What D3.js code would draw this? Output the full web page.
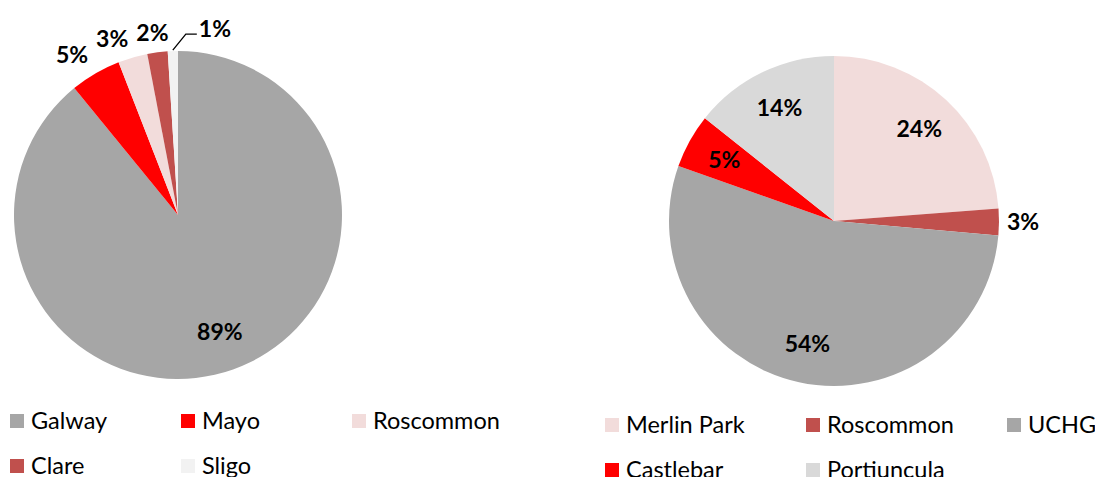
<!DOCTYPE html>
<html>
<head>
<meta charset="utf-8">
<script src="https://cdn.jsdelivr.net/npm/d3@7"></script>
<style>
  body { margin: 0; background: #fff; }
  text { font-family: Lato, "Open Sans", sans-serif; }
  .lbl { font-weight: bold; font-size: 23px; fill: #000; }
  .leg { font-size: 23.5px; fill: #000; }
</style>
</head>
<body>
<div id="vis"></div>
<script>
// left pie: counties
var leftNames = ['Galway', 'Mayo', 'Roscommon', 'Clare', 'Sligo'];
var leftValues = [89.1, 5.0, 2.9, 2.0, 1.0];
var leftColors = ['#a6a6a6', '#ff0000', '#f2dcdb', '#c0504d', '#f2f2f2'];

// right pie: hospitals
var rightNames = ['Merlin Park', 'Roscommon', 'UCHG', 'Castlebar', 'Portiuncula'];
var rightValues = [23.8, 2.6, 54.0, 5.3, 14.3];
var rightColors = ['#f2dcdb', '#c0504d', '#a6a6a6', '#ff0000', '#d9d9d9'];

var width = 1095, height = 477;

var svg = d3.select('#vis').append('svg')
    .attr('width', width)
    .attr('height', height);

var fmt = function(v) { return Math.round(v) + '%'; };
var clamp = function(v) { return Math.max(-1, Math.min(1, v)); };

function drawPie(opts) {
    var data = opts.names.map(function(n, i) {
        return {name: n, value: opts.values[i], color: opts.colors[i]};
    });
    var pie = d3.pie().sort(null).value(function(d) { return d.value; });
    var arcs = pie(data);
    var r = opts.radius;

    var g = svg.append('g')
        .attr('transform', 'translate(' + opts.cx + ',' + opts.cy + ')');

    var arc = d3.arc().innerRadius(0).outerRadius(r);
    g.selectAll('path.slice')
        .data(arcs)
        .enter().append('path')
        .attr('class', 'slice')
        .attr('d', arc)
        .attr('fill', function(d) { return d.data.color; });

    var inArc = d3.arc().innerRadius(r * 0.76).outerRadius(r * 0.76);
    var outside = [];

    arcs.forEach(function(d, i) {
        var mid = (d.startAngle + d.endAngle) / 2;
        if (opts.leader === i) {
            // tiny slice gets a leader line out to the right
            var x0 = Math.sin(mid) * (r + 1), y0 = -Math.cos(mid) * (r + 1);
            var x1 = x0 + 13, y1 = y0 - 16;
            g.append('polyline')
                .attr('points', [[x0, y0], [x1, y1], [x1 + 11, y1]].join(' '))
                .attr('fill', 'none')
                .attr('stroke', '#000')
                .attr('stroke-width', 1.3);
            g.append('text')
                .attr('class', 'lbl')
                .attr('x', x1 + 13)
                .attr('y', y1 - 5)
                .attr('dy', '0.35em')
                .text(fmt(d.data.value));
            return;
        }
        var t = g.append('text')
            .attr('class', 'lbl')
            .attr('dy', '0.35em')
            .attr('text-anchor', 'middle')
            .text(fmt(d.data.value));
        if (d.data.value >= opts.insideMin) {
            var p = inArc.centroid(d);
            t.attr('x', p[0]).attr('y', p[1]);
        } else {
            // outside end: box corner sits just past the rim
            var w = t.node().getComputedTextLength(), h = 22;
            var px = Math.sin(mid) * (r + 8), py = -Math.cos(mid) * (r + 8);
            outside.push({t: t, w: w, x: px + w / 2 * clamp(Math.sin(mid) * 2),
                y: py - h / 2 * clamp(Math.cos(mid) * 2), left: Math.sin(mid) < 0});
        }
    });

    // push left-side labels apart, working back from the top
    var lefts = outside.filter(function(o) { return o.left; });
    for (var k = lefts.length - 2; k >= 0; k--) {
        var nxt = lefts[k + 1], cur = lefts[k];
        var maxX = nxt.x - nxt.w / 2 - 8 - cur.w / 2;
        if (cur.x > maxX) cur.x = maxX;
    }
    outside.forEach(function(o) { o.t.attr('x', o.x).attr('y', o.y); });

    // legend, three per row
    var leg = svg.append('g')
        .attr('transform', 'translate(' + opts.legX + ',' + opts.legY + ')');
    var item = leg.selectAll('g.item')
        .data(data)
        .enter().append('g')
        .attr('class', 'item')
        .attr('transform', function(d, i) {
            return 'translate(' + (i % 3) * opts.legStep + ',' + Math.floor(i / 3) * 45 + ')';
        });
    item.append('rect')
        .attr('x', 0).attr('y', -7)
        .attr('width', 14).attr('height', 14)
        .attr('fill', function(d) { return d.color; });
    item.append('text')
        .attr('class', 'leg')
        .attr('x', 21)
        .attr('dy', '0.35em')
        .text(function(d) { return d.name; });
}

drawPie({
    names: leftNames, values: leftValues, colors: leftColors,
    cx: 178, cy: 215, radius: 164, leader: 4, insideMin: 10,
    legX: 10, legY: 421, legStep: 171
});

drawPie({
    names: rightNames, values: rightValues, colors: rightColors,
    cx: 834, cy: 221, radius: 165, leader: null, insideMin: 5,
    legX: 605, legY: 425, legStep: 201
});
</script>
</body>
</html>
